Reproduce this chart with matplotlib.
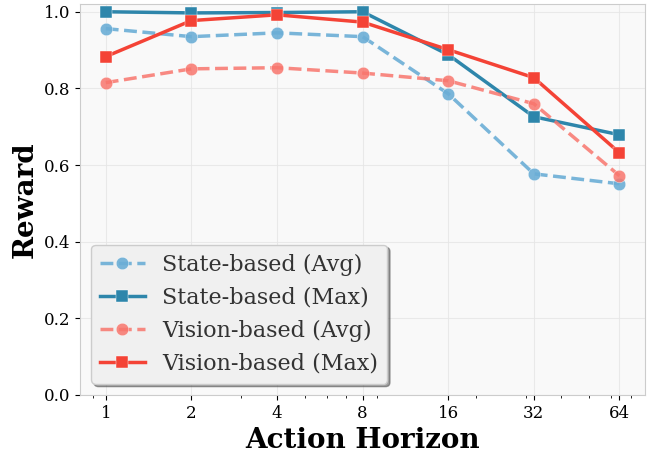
import matplotlib
matplotlib.use("Agg")
import matplotlib.pyplot as plt
from matplotlib.ticker import FixedLocator, FixedFormatter, NullFormatter

horizons = [1, 2, 4, 8, 16, 32, 64]
horizon_labels = ["1", "2", "4", "8", "16", "32", "64"]
state_avg = [0.956, 0.935, 0.945, 0.935, 0.786, 0.577, 0.551]
state_max = [1.000, 0.997, 0.998, 1.000, 0.888, 0.726, 0.679]
vision_avg = [0.815, 0.851, 0.854, 0.840, 0.820, 0.760, 0.572]
vision_max = [0.883, 0.977, 0.992, 0.973, 0.901, 0.828, 0.632]

plt.rcParams['font.family'] = ['DejaVu Serif']

fig = plt.figure(figsize=(6.51, 4.55), dpi=100)
ax = fig.add_axes([0.123, 0.132, 0.868, 0.859])
ax.set_facecolor('#f9f9f9')

common = dict(linewidth=2.5, markersize=9, markeredgecolor='white', markeredgewidth=0.3)
ax.plot(horizons, state_avg, linestyle='--', marker='o', color='#6BAED6', alpha=0.9,
        label='State-based (Avg)', **common)
ax.plot(horizons, state_max, linestyle='-', marker='s', color='#2E86AB',
        label='State-based (Max)', **common)
ax.plot(horizons, vision_avg, linestyle='--', marker='o', color='#F8766D', alpha=0.85,
        label='Vision-based (Avg)', **common)
ax.plot(horizons, vision_max, linestyle='-', marker='s', color='#F44336',
        label='Vision-based (Max)', **common)

ax.set_xscale('log')
ax.xaxis.set_major_locator(FixedLocator(horizons))
ax.xaxis.set_major_formatter(FixedFormatter(horizon_labels))
ax.xaxis.set_minor_formatter(NullFormatter())
ax.set_ylim(0, 1.02)
ax.set_yticks([0.0, 0.2, 0.4, 0.6, 0.8, 1.0])
ax.tick_params(labelsize=12)

ax.grid(True, which='major', color='#e6e6e6', linewidth=0.8, alpha=0.8)
for s in ax.spines.values():
    s.set_color('#cccccc')

ax.set_xlabel('Action Horizon', fontsize=20, fontweight='bold')
ax.set_ylabel('Reward', fontsize=20, fontweight='bold')

leg = ax.legend(loc='lower left', fontsize=16, frameon=True, shadow=True,
                fancybox=True, facecolor='#f0f0f0', edgecolor='#cccccc',
                labelspacing=0.5, borderaxespad=0.5)
for t in leg.get_texts():
    t.set_color('#333333')

fig.savefig('out.png', dpi=100)
